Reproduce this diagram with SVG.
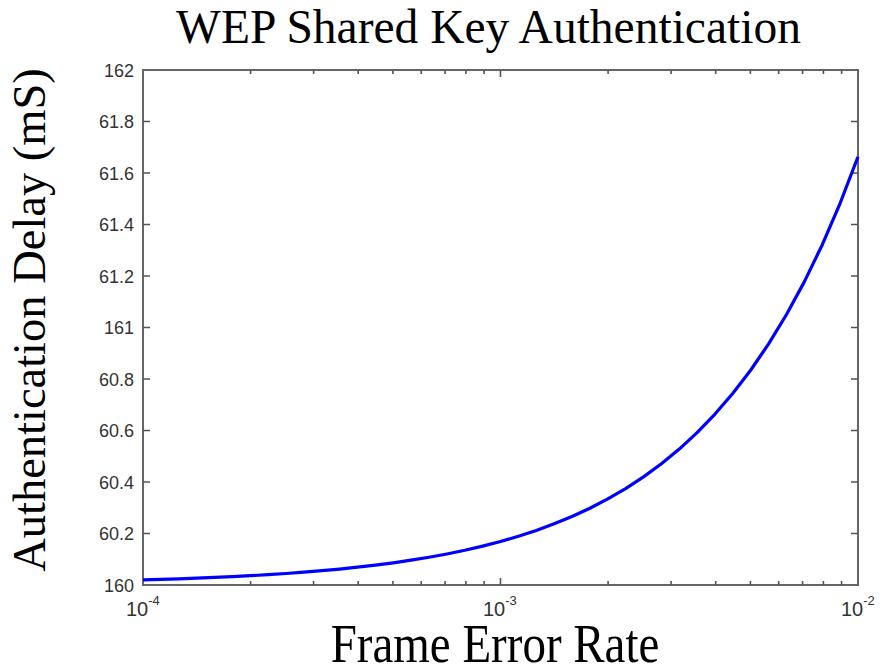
<svg xmlns="http://www.w3.org/2000/svg" width="881" height="666" viewBox="0 0 881 666">
  <style>
    .title { font-family: "Liberation Serif", "Times New Roman", serif; font-size: 46px; fill: #000; }
    .ylab { font-family: "Liberation Sans", Arial, sans-serif; font-size: 18px; fill: #333; text-anchor: end; }
    .xlab { font-family: "Liberation Sans", Arial, sans-serif; font-size: 20px; fill: #333; }
    .sup { font-size: 13px; }
    .frame { fill: none; stroke: #666; stroke-width: 2; }
    .tick { stroke: #555; stroke-width: 1.6; fill: none; }
    .curve { fill: none; stroke: #0000ff; stroke-width: 3.2; stroke-linejoin: round; }
  </style>
  <rect width="881" height="666" fill="#fff"/>

  <!-- title and axis titles -->
  <text class="title" x="488.5" y="43" text-anchor="middle" style="font-size:47.5px">WEP Shared Key Authentication</text>
  <text class="title" x="0" y="0" text-anchor="middle" transform="translate(45,320) rotate(-90)" style="font-size:46.5px">Authentication Delay (mS)</text>
  <text class="title" x="0" y="0" text-anchor="middle" transform="translate(495,662) scale(1,1.15)" style="font-size:47px">Frame Error Rate</text>

  <!-- plot frame -->
  <rect class="frame" x="143" y="70" width="715" height="515"/>

  <!-- y ticks (left and right, pointing inward) -->
  <path class="tick" d="M143 121.5h7M143 173h7M143 224.5h7M143 276h7M143 327.5h7M143 379h7M143 430.5h7M143 482h7M143 533.5h7
                        M858 121.5h-7M858 173h-7M858 224.5h-7M858 276h-7M858 327.5h-7M858 379h-7M858 430.5h-7M858 482h-7M858 533.5h-7"/>

  <!-- x ticks: decade majors and log minors, bottom and top -->
  <path class="tick" d="M500.5 585v-7M500.5 70v7
    M250.6 585v-4M313.6 585v-4M358.2 585v-4M392.9 585v-4M421.2 585v-4M445.1 585v-4M465.9 585v-4M484.1 585v-4
    M608.1 585v-4M671.1 585v-4M715.7 585v-4M750.4 585v-4M778.7 585v-4M802.6 585v-4M823.4 585v-4M841.6 585v-4
    M250.6 70v4M313.6 70v4M358.2 70v4M392.9 70v4M421.2 70v4M445.1 70v4M465.9 70v4M484.1 70v4
    M608.1 70v4M671.1 70v4M715.7 70v4M750.4 70v4M778.7 70v4M802.6 70v4M823.4 70v4M841.6 70v4"/>

  <!-- y tick labels -->
  <g class="ylab">
    <text x="134" y="76.5">162</text>
    <text x="134" y="128">61.8</text>
    <text x="134" y="179.5">61.6</text>
    <text x="134" y="231">61.4</text>
    <text x="134" y="282.5">61.2</text>
    <text x="134" y="334">161</text>
    <text x="134" y="385.5">60.8</text>
    <text x="134" y="437">60.6</text>
    <text x="134" y="488.5">60.4</text>
    <text x="134" y="540">60.2</text>
    <text x="134" y="591.5">160</text>
  </g>

  <!-- x tick labels -->
  <g class="xlab">
    <text x="126" y="616">10<tspan class="sup" dy="-11">-4</tspan></text>
    <text x="483" y="616">10<tspan class="sup" dy="-11">-3</tspan></text>
    <text x="841" y="616">10<tspan class="sup" dy="-11">-2</tspan></text>
  </g>

  <!-- delay versus frame error rate -->
  <polyline class="curve" points="143,579.96 160.9,579.43 178.8,578.85 196.6,578.19 214.5,577.46 232.4,576.63 250.3,575.70 268.1,574.66 286,573.49 303.9,572.18 321.8,570.71 339.6,569.06 357.5,567.21 375.4,565.14 393.3,562.81 411.1,560.19 429,557.26 446.9,553.97 464.8,550.28 482.6,546.13 500.5,541.49 518.4,536.27 536.3,530.42 554.1,523.85 572,516.48 589.9,508.22 607.8,498.94 625.6,488.54 643.5,476.86 661.4,463.76 679.3,449.06 697.1,432.57 715,414.06 732.9,393.30 750.8,370.00 768.6,343.86 786.5,314.52 804.4,281.62 822.3,244.70 840.1,203.27 858,156.78"/>
</svg>
